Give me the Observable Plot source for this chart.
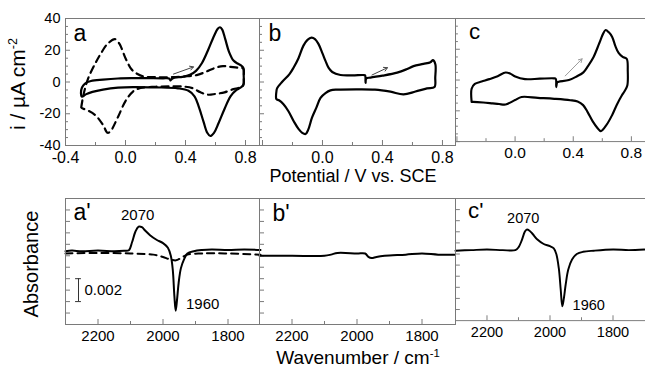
<!DOCTYPE html>
<html><head><meta charset="utf-8">
<script src="https://cdn.jsdelivr.net/npm/d3@7"></script>
<script src="https://cdn.jsdelivr.net/npm/@observablehq/plot@0.6"></script>
<style>
body{margin:0;background:#fff;}
#fig{position:relative;width:645px;height:366px;overflow:hidden;font-family:"Liberation Sans",Arial,sans-serif;background:#fff;}
.p{position:absolute;}
.t{position:absolute;white-space:nowrap;color:#000;line-height:1;}
.t sup{font-size:60%;vertical-align:0.6em;line-height:0;}
</style></head><body><div id="fig"></div>
<script>
// ---------------- DATA ----------------
// Cyclic voltammograms: [potential V vs SCE, current density µA cm^-2]
const cvA_solid = [
  [0.30,1.0],[0.32,2.6],[0.38,3.2],[0.43,4.5],[0.47,7],[0.51,12],[0.55,20],[0.59,29],[0.615,33.5],[0.63,34.5],
  [0.645,33],[0.665,27],[0.69,19],[0.72,13.5],[0.75,11.5],[0.77,10.5],[0.785,9],[0.788,4],[0.787,-1.5],
  [0.775,-3],[0.74,-5],[0.70,-9],[0.66,-17],[0.62,-26],[0.59,-32],[0.565,-34],[0.545,-32],[0.52,-25],[0.49,-16],
  [0.46,-9],[0.42,-5.5],[0.35,-4],[0.2,-3.4],[0.05,-3.2],[-0.05,-3.6],[-0.15,-4.8],[-0.22,-6.2],[-0.265,-7.8],[-0.29,-9.3],
  [-0.297,-7],[-0.29,-3.5],[-0.27,-1],[-0.23,0.6],[-0.15,1.5],[-0.05,2.2],[0.05,2.4],[0.15,2.4],[0.25,2.3],[0.29,2.2],[0.30,1.0]
];
const cvA_dashed = [
  [-0.295,-16],[-0.28,-8],[-0.25,2],[-0.2,12],[-0.167,17.5],[-0.12,24],[-0.07,27],[-0.04,24],[0.0,15],[0.04,8],
  [0.08,5],[0.12,3.5],[0.2,3],[0.3,3],[0.4,3.5],[0.48,4.5],[0.55,7],[0.6,9],[0.65,10],[0.7,9.5],[0.75,9],[0.785,8.5],
  [0.788,3],[0.785,-2],[0.76,-3.5],[0.72,-4.5],[0.66,-6.5],[0.6,-7.5],[0.55,-8],[0.5,-6.5],[0.45,-4],[0.4,-3],
  [0.3,-2.8],[0.2,-3],[0.1,-3.8],[0.05,-6],[0.0,-12],[-0.05,-22],[-0.1,-31],[-0.12,-32],[-0.15,-27],[-0.2,-21],
  [-0.25,-18],[-0.29,-16.5],[-0.295,-16]
];
const cvB = [
  [-0.307,-5.7],[-0.303,-4],[-0.27,0],[-0.22,5],[-0.193,9],[-0.16,15],[-0.127,22.9],[-0.1,26.5],[-0.073,27.9],[-0.05,27],
  [-0.027,24],[0.0,18],[0.02,13.3],[0.04,9],[0.065,6.3],[0.12,4.4],[0.2,4.2],[0.273,4.4],[0.284,4.2],[0.287,-0.5],
  [0.292,2.2],[0.32,2.8],[0.4,4],[0.498,5.9],[0.56,8],[0.607,10],[0.673,11.4],[0.72,12.5],[0.737,13.8],[0.753,11],
  [0.752,3],[0.747,-3.2],[0.697,-4],[0.62,-6],[0.54,-7.8],[0.453,-6.1],[0.35,-4.8],[0.23,-4.6],[0.1,-4.8],[0.053,-5.3],
  [0.02,-7],[-0.013,-10],[-0.04,-16],[-0.07,-22.5],[-0.095,-30],[-0.113,-32.8],[-0.135,-32],[-0.16,-29.5],[-0.19,-25],
  [-0.227,-18.4],[-0.26,-14],[-0.29,-11.5],[-0.307,-10.8],[-0.307,-5.7]
];
const cvC = [
  [-0.299,-14.2],[-0.299,-5.7],[-0.277,-2.5],[-0.23,-1],[-0.177,0.6],[-0.12,2.5],[-0.065,4.9],[-0.03,4],[0.001,2.3],
  [0.068,0.6],[0.17,0.9],[0.268,1.1],[0.28,0.8],[0.283,-4.6],[0.29,-1.5],[0.301,-1.1],[0.37,0],[0.423,2.3],[0.47,5],
  [0.501,9],[0.54,15],[0.579,23.9],[0.605,30],[0.623,32.5],[0.645,31],[0.668,28],[0.69,22],[0.712,17.6],[0.74,15],
  [0.768,13.8],[0.775,6],[0.772,-3.6],[0.755,-7],[0.734,-10],[0.7,-16],[0.668,-22.7],[0.63,-29],[0.59,-33.2],[0.565,-31],
  [0.534,-26.9],[0.5,-21],[0.468,-16.3],[0.43,-14],[0.379,-13.1],[0.27,-12.2],[0.157,-11.6],[0.045,-11],[0.0,-13],
  [-0.065,-15.9],[-0.11,-15.6],[-0.154,-15.2],[-0.22,-14.6],[-0.288,-14.2],[-0.299,-14.2]
];
// start-of-scan arrows [x1,y1,x2,y2]
const arrowA = [[0.32,5,0.453,9.5]];
const arrowB = [[0.33,4.4,0.433,9]];
const arrowC = [[0.345,2.7,0.461,13.8]];

// IR spectra: [wavenumber cm^-1, absorbance (offset)]
const irA_solid = [
  [2300,0.0064],[2280,0.00645],[2250,0.0064],[2200,0.00645],[2150,0.0064],[2120,0.00643],[2105,0.00648],[2095,0.0072],
  [2085,0.0081],[2075,0.00855],[2065,0.0085],[2055,0.0082],[2040,0.0078],[2020,0.0074],[2000,0.0071],[1985,0.0067],
  [1976,0.006],[1970,0.0048],[1965,0.0025],[1961,0.0012],[1957,0.0021],[1952,0.0036],[1945,0.0049],[1935,0.0057],
  [1925,0.0062],[1905,0.0064],[1880,0.0065],[1850,0.00655],[1800,0.0065],[1750,0.00655],[1700,0.0065]
];
const irA_dashed = [
  [2300,0.0062],[2200,0.00625],[2100,0.0062],[2030,0.0061],[2000,0.0059],[1980,0.0057],[1960,0.0056],[1945,0.0058],
  [1925,0.0061],[1880,0.0062],[1800,0.0062],[1700,0.0061]
];
const irB = [
  [2300,0.0060],[2200,0.006],[2100,0.006],[2080,0.0061],[2060,0.00625],[2000,0.0062],[1975,0.0062],[1965,0.0059],
  [1955,0.0058],[1940,0.0059],[1915,0.006],[1850,0.0061],[1800,0.0062],[1750,0.0061],[1700,0.0061]
];
const irC = [
  [2300,0.0063],[2250,0.00635],[2200,0.0064],[2150,0.00635],[2110,0.00635],[2100,0.0066],[2090,0.0072],[2080,0.008],
  [2074,0.0082],[2065,0.0081],[2055,0.0078],[2040,0.0073],[2020,0.0069],[2000,0.0067],[1988,0.0065],[1980,0.006],
  [1972,0.0047],[1966,0.0028],[1961,0.0013],[1956,0.002],[1950,0.0033],[1942,0.0046],[1930,0.0055],[1915,0.006],
  [1895,0.0062],[1860,0.0063],[1800,0.0064],[1750,0.00635],[1700,0.0064]
];
// peak labels [wavenumber, absorbance, text]
const peakLabelsA = [[2078,0.0095,"2070"],[1878,0.0018,"1960"]];
const peakLabelsC = [[2085,0.0092,"2070"],[1877,0.0014,"1960"]];
// scale bar [x, y1, y2, label]
const scaleBar = [[2260,0.002,0.004,"0.002"]];

// tick values
const cvMajorX = [-0.4,0.0,0.4,0.8];
const cvMinorX = [-0.2,0.2,0.6];
const cvMajorY = [-40,-20,0,20,40];
const cvMinorY = [-35,-30,-25,-15,-10,-5,5,10,15,25,30,35];
const cvLabelsY = [-40,-20,0,20,40];
const irMajorX = [2200,2000,1800];
const irMinorX = [2100,1900];
const irTicksY = [0.001,0.002,0.003,0.004,0.005,0.006,0.007,0.008,0.009,0.010];

// ---------------- DRAWING ----------------
const FONT = '"Liberation Sans", Arial, Helvetica, sans-serif';
const GRID = "#7a7a7a";
const fig = document.getElementById("fig");

function place(el, left, top) {
  const d = document.createElement("div");
  d.className = "p"; d.style.left = left + "px"; d.style.top = top + "px";
  d.appendChild(el); fig.appendChild(d);
}
function text(html, cx, cy, size, rotate) {
  const d = document.createElement("div");
  d.className = "t"; d.innerHTML = html;
  d.style.left = cx + "px"; d.style.top = cy + "px"; d.style.fontSize = size + "px";
  d.style.transform = "translate(-50%,-50%)" + (rotate ? " rotate(-90deg)" : "");
  fig.appendChild(d);
}

function panel({W, H, xDomain, yDomain, xMajor, xMinor, xLabels, yMajor, yMinor, yLabels, xFmt, marks, letter, ldx, ldy, labelPad, labelSize}) {
  return Plot.plot({
    width: W, height: H, margin: 0,
    style: {overflow: "visible", fontFamily: FONT, background: "transparent"},
    x: {domain: xDomain, axis: null},
    y: {domain: yDomain, axis: null},
    marks: [
      Plot.tickX(xMajor, {x: d => d, stroke: GRID, insetTop: H - 5}),
      Plot.tickX(xMinor, {x: d => d, stroke: GRID, insetTop: H - 3}),
      Plot.tickY(yMajor, {y: d => d, stroke: GRID, insetRight: W - 5}),
      Plot.tickY(yMinor, {y: d => d, stroke: GRID, insetRight: W - 3}),
      Plot.axisX({ticks: xLabels, tickSize: 0, tickPadding: labelPad, tickFormat: xFmt, fontSize: labelSize, label: null, fill: "#000"}),
      yLabels ? Plot.axisY({ticks: yLabels, tickSize: 0, tickPadding: 5, tickFormat: d => String(d), fontSize: 14.5, label: null, fill: "#000"}) : null,
      ...marks,
      Plot.frame({stroke: GRID, strokeWidth: 1}),
      Plot.text([letter], {frameAnchor: "top-left", text: d => d, dx: ldx, dy: ldy, textAnchor: "start", lineAnchor: "bottom", fontSize: 23, fill: "#000"})
    ]
  });
}

const line = (data, extra = {}) => Plot.line(data, {x: d => d[0], y: d => d[1], curve: "catmull-rom", stroke: "#000", strokeWidth: 2.2, strokeLinejoin: "round", ...extra});
const arrow = (data, color) => Plot.arrow(data, {x1: d => d[0], y1: d => d[1], x2: d => d[2], y2: d => d[3], stroke: color, strokeWidth: 1, headLength: 6});

const TOP = 18, TH = 127, BOT = 198, BH = 126;
const cvFmt = d => d.toFixed(1);
const irFmt = d => String(d);

// top row
place(panel({W: 194, H: TH, xDomain: [-0.4, 0.8933], yDomain: [-40, 40], xMajor: cvMajorX, xMinor: cvMinorX, xLabels: cvMajorX,
  yMajor: cvMajorY, yMinor: cvMinorY, yLabels: cvLabelsY, xFmt: cvFmt, labelPad: 6, labelSize: 16,
  marks: [line(cvA_dashed, {strokeDasharray: "7,5"}), line(cvA_solid), arrow(arrowA, "#444")], letter: "a", ldx: 8, ldy: 22}), 65, TOP);
place(panel({W: 196, H: TH, xDomain: [-0.42, 0.887], yDomain: [-40, 40], xMajor: cvMajorX, xMinor: cvMinorX, xLabels: [0.0,0.4,0.8],
  yMajor: cvMajorY, yMinor: cvMinorY, yLabels: null, xFmt: cvFmt, labelPad: 6, labelSize: 16,
  marks: [line(cvB), arrow(arrowB, "#444")], letter: "b", ldx: 9, ldy: 22}), 259, TOP);
place(panel({W: 196, H: TH, xDomain: [-0.41, 0.897], yDomain: [-40, 40], xMajor: cvMajorX, xMinor: cvMinorX, xLabels: [0.0,0.4,0.8],
  yMajor: cvMajorY, yMinor: cvMinorY, yLabels: null, xFmt: cvFmt, labelPad: 6, labelSize: 16,
  marks: [line(cvC), arrow(arrowC, "#999")], letter: "c", ldx: 14, ldy: 21}), 455, TOP);

// bottom row
const peakText = (data) => Plot.text(data, {x: d => d[0], y: d => d[1], text: d => d[2], fontSize: 15, fill: "#000"});
place(panel({W: 194, H: BH, xDomain: [2300, 2300 - 194 * 200 / 65], yDomain: [0, 0.011], xMajor: irMajorX, xMinor: irMinorX, xLabels: irMajorX,
  yMajor: irTicksY, yMinor: [], yLabels: null, xFmt: irFmt, labelPad: 6, labelSize: 15,
  marks: [line(irA_dashed, {strokeDasharray: "7,5", strokeWidth: 2}), line(irA_solid, {strokeWidth: 2}),
    Plot.ruleX(scaleBar, {x: d => d[0], y1: d => d[1], y2: d => d[2], stroke: "#333", strokeWidth: 1}),
    Plot.ruleY(scaleBar, {y: d => d[1], x1: d => d[0] + 9, x2: d => d[0] - 9, stroke: "#333", strokeWidth: 1}),
    Plot.ruleY(scaleBar, {y: d => d[2], x1: d => d[0] + 9, x2: d => d[0] - 9, stroke: "#333", strokeWidth: 1}),
    Plot.text(scaleBar, {x: d => d[0], y: d => (d[1] + d[2]) / 2, text: d => d[3], dx: 6, textAnchor: "start", fontSize: 15, fill: "#000"}),
    peakText(peakLabelsA)], letter: "a'", ldx: 8, ldy: 21}), 65, BOT);
place(panel({W: 196, H: BH, xDomain: [2300, 2300 - 196 * 200 / 65], yDomain: [0, 0.011], xMajor: irMajorX, xMinor: irMinorX, xLabels: irMajorX,
  yMajor: irTicksY, yMinor: [], yLabels: null, xFmt: irFmt, labelPad: 6, labelSize: 15,
  marks: [line(irB, {strokeWidth: 2})], letter: "b'", ldx: 13, ldy: 22}), 259, BOT);
place(panel({W: 196, H: BH, xDomain: [2300, 2300 - 196 * 200 / 65], yDomain: [0, 0.011], xMajor: irMajorX, xMinor: irMinorX, xLabels: irMajorX,
  yMajor: irTicksY, yMinor: [], yLabels: null, xFmt: irFmt, labelPad: 6, labelSize: 15,
  marks: [line(irC, {strokeWidth: 2}), peakText(peakLabelsC)], letter: "c'", ldx: 13, ldy: 20}), 455, BOT);

// axis titles
text("Potential / V vs. SCE", 353, 176, 18);
text("Wavenumber / cm<sup>-1</sup>", 358, 357, 19);
text("i / µA cm<sup>-2</sup>", 17, 84, 21, true);
text("Absorbance", 31, 264, 20, true);
</script></body></html>
